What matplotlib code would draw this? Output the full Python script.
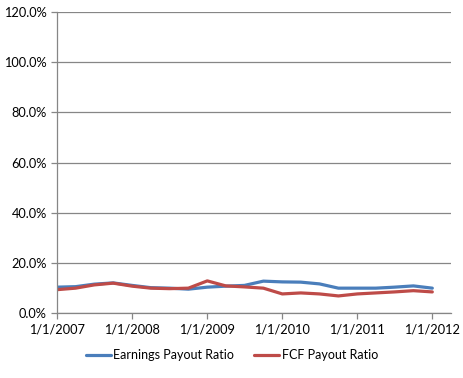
import pandas as pd
import matplotlib.pyplot as plt
import matplotlib.dates as mdates
from matplotlib.ticker import FuncFormatter

# Quarterly observations, 1/1/2007 .. 1/1/2012
dates = pd.date_range("2007-01-01", "2012-01-01", freq="QS")
earnings_payout = [10.3, 10.5, 11.5, 12.0, 11.0, 10.1, 9.9, 9.5, 10.3, 10.7, 11.0,
                   12.7, 12.4, 12.3, 11.6, 9.9, 9.9, 9.9, 10.3, 10.8, 9.9]
fcf_payout = [9.3, 9.9, 11.2, 11.9, 10.7, 9.9, 9.7, 9.9, 12.8, 10.8, 10.4,
              9.9, 7.6, 8.0, 7.6, 6.8, 7.6, 8.0, 8.4, 8.9, 8.4]
year_ticks = pd.to_datetime(["2007-01-01", "2008-01-01", "2009-01-01",
                             "2010-01-01", "2011-01-01", "2012-01-01"])

plt.rcParams["font.family"] = ["Lato", "DejaVu Sans"]

fig = plt.figure(figsize=(4.64, 3.78), dpi=100)
ax = fig.add_axes([0.123, 0.172, 0.849, 0.796])

ax.plot(dates, earnings_payout, color="#4A7EBB", lw=2.3, label="Earnings Payout Ratio",
        solid_capstyle="round")
ax.plot(dates, fcf_payout, color="#BE4B48", lw=2.3, label="FCF Payout Ratio",
        solid_capstyle="round")

ax.set_ylim(0, 120)
ax.set_yticks(range(0, 121, 20))
ax.yaxis.set_major_formatter(FuncFormatter(lambda v, p: f"{v:.1f}%"))
ax.set_xlim(pd.Timestamp("2007-01-01"), pd.Timestamp("2012-04-01"))
ax.set_xticks(year_ticks)
ax.xaxis.set_major_formatter(FuncFormatter(
    lambda v, p: "{d.month}/{d.day}/{d.year}".format(d=mdates.num2date(v))))

ax.grid(axis="y", color="#868686", lw=0.9)
ax.set_axisbelow(True)
for s in ["top", "right"]:
    ax.spines[s].set_visible(False)
for s in ["left", "bottom"]:
    ax.spines[s].set_color("#868686")
    ax.spines[s].set_linewidth(0.9)
ax.tick_params(colors="#868686", length=4, width=0.9, labelcolor="black", labelsize=9.2)

fig.legend(loc="center", bbox_to_anchor=(0.5, 0.06), ncol=2, frameon=False,
           fontsize=9, handlelength=2.0, handletextpad=0.2, columnspacing=1.6)

fig.savefig("out.png", dpi=100)
